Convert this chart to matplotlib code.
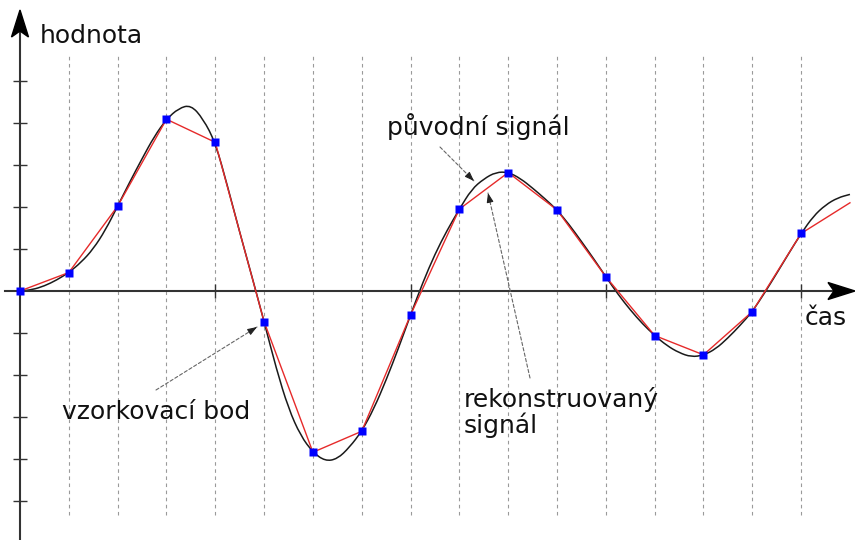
import matplotlib.pyplot as plt
import matplotlib.transforms as mtransforms
from matplotlib.patches import Polygon, PathPatch
from matplotlib.path import Path
import numpy as np

# vzorky (index vzorku a hodnota)
vzorky_t = np.arange(18)
vzorky_y = [0, 0.44, 2.02, 4.09, 3.54, -0.73, -3.84, -3.34, -0.57,
            1.95, 2.82, 1.93, 0.34, -1.06, -1.52, -0.49, 1.37, 2.10]
# viditelne znacky vzorku (posledni je uz za okrajem)
n_znacek = 17

# puvodni signal odecteny po ctvrtinach vzorku
signal_t = np.arange(69) * 0.25
signal_y = [0, 0.03, 0.12, 0.26,
            0.44, 0.68, 1.0, 1.45,
            2.02, 2.6, 3.15, 3.68,
            4.09, 4.35, 4.43, 4.1,
            3.54, 2.5, 1.4, 0.35,
            -0.73, -1.85, -2.8, -3.45,
            -3.84, -4.05, -4.0, -3.72,
            -3.34, -2.8, -2.12, -1.37,
            -0.57, 0.2, 0.88, 1.45,
            1.95, 2.42, 2.67, 2.83,
            2.83, 2.68, 2.45, 2.2,
            1.93, 1.58, 1.18, 0.77,
            0.34, -0.08, -0.45, -0.78,
            -1.06, -1.3, -1.47, -1.57,
            -1.53, -1.38, -1.12, -0.82,
            -0.49, -0.05, 0.42, 0.9,
            1.37, 1.78, 2.05, 2.22,
            2.3]

y_ticks = [-5, -4, -3, -2, -1, 1, 2, 3, 4, 5]
x_ticks = [4, 8, 12, 16]

W, H = 855, 540
dx, dy = 48.82, 42.0          # pixelu na vzorek / na dilek
x0, y0 = 20, 291              # pocatek v pixelech

fig = plt.figure(figsize=(W / 100, H / 100), dpi=100)
ax = fig.add_axes([0, 0, 1, 1])
ax.set_xlim(-x0 / dx, (W - x0) / dx)
ax.set_ylim(-(H - y0) / dy, y0 / dy)

def px(x, y):                 # pixel -> data (jen pro rozmisteni popisku)
    return ((x - x0) / dx, (y0 - y) / dy)

# svisle carkovane cary ve vzorcich
ax.vlines(vzorky_t[1:n_znacek], px(0, 515)[1], px(0, 55)[1],
          colors='#9a9a9a', linestyles=(0, (3.2, 3.2)), lw=0.8, zorder=1)

# osy
for s in ['top', 'right']:
    ax.spines[s].set_visible(False)
ax.spines['left'].set_position(('data', 0))
ax.spines['bottom'].set_position(('data', 0))
ax.spines['left'].set_bounds(px(0, 540)[1], px(0, 25)[1])
ax.spines['bottom'].set_bounds(px(5, 0)[0], px(840, 0)[0])
for s in ['left', 'bottom']:
    ax.spines[s].set_color('#333333')
    ax.spines[s].set_linewidth(1.5)
ax.set_yticks(y_ticks)
ax.set_xticks(x_ticks)
ax.set_xticklabels([])
ax.set_yticklabels([])
ax.tick_params(axis='both', direction='inout', length=9.5, width=1.0,
               color='#333333')

# sipky na koncich os (tvar v pixelech okolo hrotu)
def hrot(xd, yd, uhel):
    tx, ty = ax.transData.transform((xd, yd))
    tr = mtransforms.Affine2D().rotate_deg(uhel).translate(tx, ty)
    tvar = [(0, 0), (-27, 8.5), (-21, 0), (-27, -8.5)]
    ax.add_patch(Polygon(tvar, closed=True, transform=tr, color='black',
                         zorder=5, clip_on=False))

hrot(0, px(0, 10)[1], 90)
hrot(px(855, 0)[0], 0, 0)

# puvodni signal: hladka cesta (kvadraticke Bezierovy useky mezi stredy)
body = np.column_stack([signal_t, signal_y])
stredy = (body[:-1] + body[1:]) / 2
verts = [body[0], stredy[0]]
codes = [Path.MOVETO, Path.LINETO]
for i in range(1, len(body) - 1):
    verts += [body[i], stredy[i]]
    codes += [Path.CURVE3, Path.CURVE3]
verts.append(body[-1])
codes.append(Path.LINETO)
ax.add_patch(PathPatch(Path(verts, codes), fill=False, edgecolor='#1a1a1a',
                       lw=1.1, zorder=2))

# rekonstruovany signal a vzorky
ax.plot(vzorky_t, vzorky_y, color='#e62a2a', lw=1.0, zorder=3)
ax.plot(vzorky_t[:n_znacek], vzorky_y[:n_znacek], ls='none', marker='s',
        ms=5.8, color='#0000ff', mec='none', zorder=4)

# popisky
fs = 18
ax.text(*px(40, 43), 'hodnota', fontsize=fs, va='baseline', color='#111111')
ax.text(*px(805, 325), 'čas', fontsize=fs, va='baseline', color='#111111')
ax.text(*px(570, 135), 'původní signál', fontsize=fs, ha='right',
        va='baseline', color='#111111')
ax.text(*px(62, 419), 'vzorkovací bod', fontsize=fs, va='baseline',
        color='#111111')
ax.text(*px(464, 433), 'rekonstruovaný\nsignál', fontsize=fs, va='baseline',
        linespacing=1.0, color='#111111')

def odkaz(start, cil):
    s = np.array(px(*start))
    c = np.array(px(*cil))
    ax.annotate('', xy=c, xytext=s,
                arrowprops=dict(arrowstyle='-', color='#666666', lw=0.8,
                                ls=(0, (3, 2)), shrinkA=0, shrinkB=0))
    smer = np.array(start, float) - np.array(cil, float)
    smer = smer / np.hypot(*smer)
    zpet = np.array(px(*(np.array(cil, float) + 9 * smer)))
    ax.annotate('', xy=c, xytext=zpet,
                arrowprops=dict(arrowstyle='-|>,head_length=0.55,head_width=0.2',
                                color='#222222', lw=0.8, shrinkA=0, shrinkB=0))

odkaz((156, 390), (257, 327))
odkaz((440, 147), (474, 181))
odkaz((530, 378), (488, 193))

fig.savefig('out.png', dpi=100)
